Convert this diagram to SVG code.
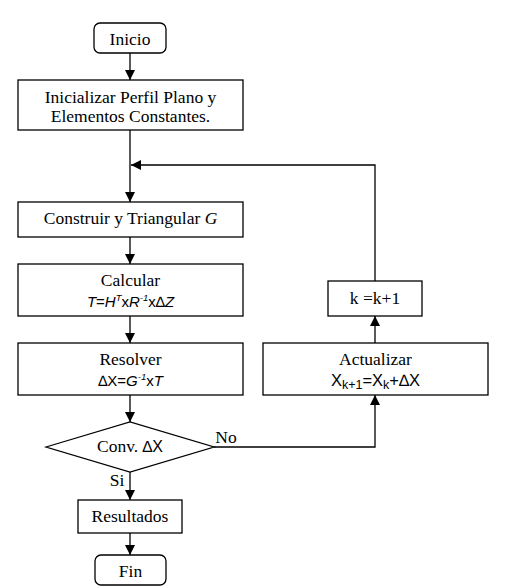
<svg xmlns="http://www.w3.org/2000/svg" width="529" height="586" viewBox="0 0 529 586">
<defs>
<style>
.box{fill:#fff;stroke:#000;stroke-width:1.3}
.ln{fill:none;stroke:#000;stroke-width:1.3}
.t{font-family:'Liberation Serif','Times New Roman',serif;font-size:17.5px;fill:#000;text-anchor:middle}
.f{font-family:'Liberation Sans',Arial,sans-serif;font-size:14px;fill:#000;text-anchor:middle}
.i{font-style:italic}
.sup{font-size:9.5px;font-style:italic}
</style>
<marker id="ah" viewBox="0 0 10 10" refX="10" refY="5" markerWidth="10" markerHeight="10" markerUnits="userSpaceOnUse" orient="auto">
<path d="M0,0 L10,5 L0,10 z" fill="#000"/>
</marker>
</defs>
<rect width="529" height="586" fill="#fff"/>
<g id="connectors">
<line class="ln" x1="130" y1="53" x2="130" y2="80" marker-end="url(#ah)"/>
<line class="ln" x1="130" y1="130" x2="130" y2="202" marker-end="url(#ah)"/>
<polyline class="ln" points="375,281 375,165 131,165" marker-end="url(#ah)"/>
<line class="ln" x1="130" y1="237" x2="130" y2="264" marker-end="url(#ah)"/>
<line class="ln" x1="130" y1="316" x2="130" y2="343" marker-end="url(#ah)"/>
<line class="ln" x1="130" y1="395" x2="130" y2="422" marker-end="url(#ah)"/>
<polyline class="ln" points="214,447 375,447 375,395" marker-end="url(#ah)"/>
<line class="ln" x1="375" y1="343" x2="375" y2="316" marker-end="url(#ah)"/>
<line class="ln" x1="130" y1="472" x2="130" y2="500" marker-end="url(#ah)"/>
<line class="ln" x1="130" y1="533" x2="130" y2="555" marker-end="url(#ah)"/>
<text class="t" x="226" y="443">No</text>
<text class="t" x="117" y="486">Si</text>
</g>
<g id="inicio">
<rect class="box" x="94" y="23" width="72" height="30" rx="6"/>
<text class="t" x="130" y="45">Inicio</text>
</g>
<g id="inicializar">
<rect class="box" x="18" y="80" width="225" height="50"/>
<text class="t" x="130.5" y="103">Inicializar Perfil Plano y</text>
<text class="t" x="130.5" y="122">Elementos Constantes.</text>
</g>
<g id="construir">
<rect class="box" x="18" y="202" width="225" height="35"/>
<text class="t" x="130.5" y="224">Construir y Triangular <tspan class="i">G</tspan></text>
</g>
<g id="calcular">
<rect class="box" x="18" y="264" width="225" height="52"/>
<text class="t" x="130.5" y="286">Calcular</text>
<text class="f" x="130.5" y="307" style="font-size:15px"><tspan class="i">T</tspan>=<tspan class="i">H</tspan><tspan class="sup" dy="-6">T</tspan><tspan dy="6">x</tspan><tspan class="i">R</tspan><tspan class="sup" dy="-6">-1</tspan><tspan dy="6">x∆</tspan><tspan class="i">Z</tspan></text>
</g>
<g id="resolver">
<rect class="box" x="18" y="343" width="225" height="52"/>
<text class="t" x="130.5" y="365">Resolver</text>
<text class="f" x="130.5" y="386" style="font-size:15px">∆X=<tspan class="i">G</tspan><tspan class="sup" dy="-6">-1</tspan><tspan dy="6">x</tspan><tspan class="i">T</tspan></text>
</g>
<g id="conv">
<polygon class="box" points="46,447 130,422 214,447 130,472"/>
<text class="t" x="130" y="452">Conv. <tspan style="font-family:'Liberation Sans',Arial,sans-serif;font-size:16px">∆X</tspan></text>
</g>
<g id="resultados">
<rect class="box" x="78" y="500" width="104" height="33"/>
<text class="t" x="130" y="522">Resultados</text>
</g>
<g id="fin">
<rect class="box" x="95" y="555" width="71" height="30" rx="6"/>
<text class="t" x="130.5" y="577">Fin</text>
</g>
<g id="actualizar">
<rect class="box" x="263" y="343" width="225" height="52"/>
<text class="t" x="375.5" y="365">Actualizar</text>
<text class="f" x="375.5" y="386" style="font-size:16.5px">X<tspan style="font-size:12.5px" dy="3">k+1</tspan><tspan dy="-3">=X</tspan><tspan style="font-size:12.5px" dy="3">k</tspan><tspan dy="-3">+∆X</tspan></text>
</g>
<g id="incremento">
<rect class="box" x="328" y="281" width="94" height="35"/>
<text class="t" x="375" y="304">k =k+1</text>
</g>
</svg>
